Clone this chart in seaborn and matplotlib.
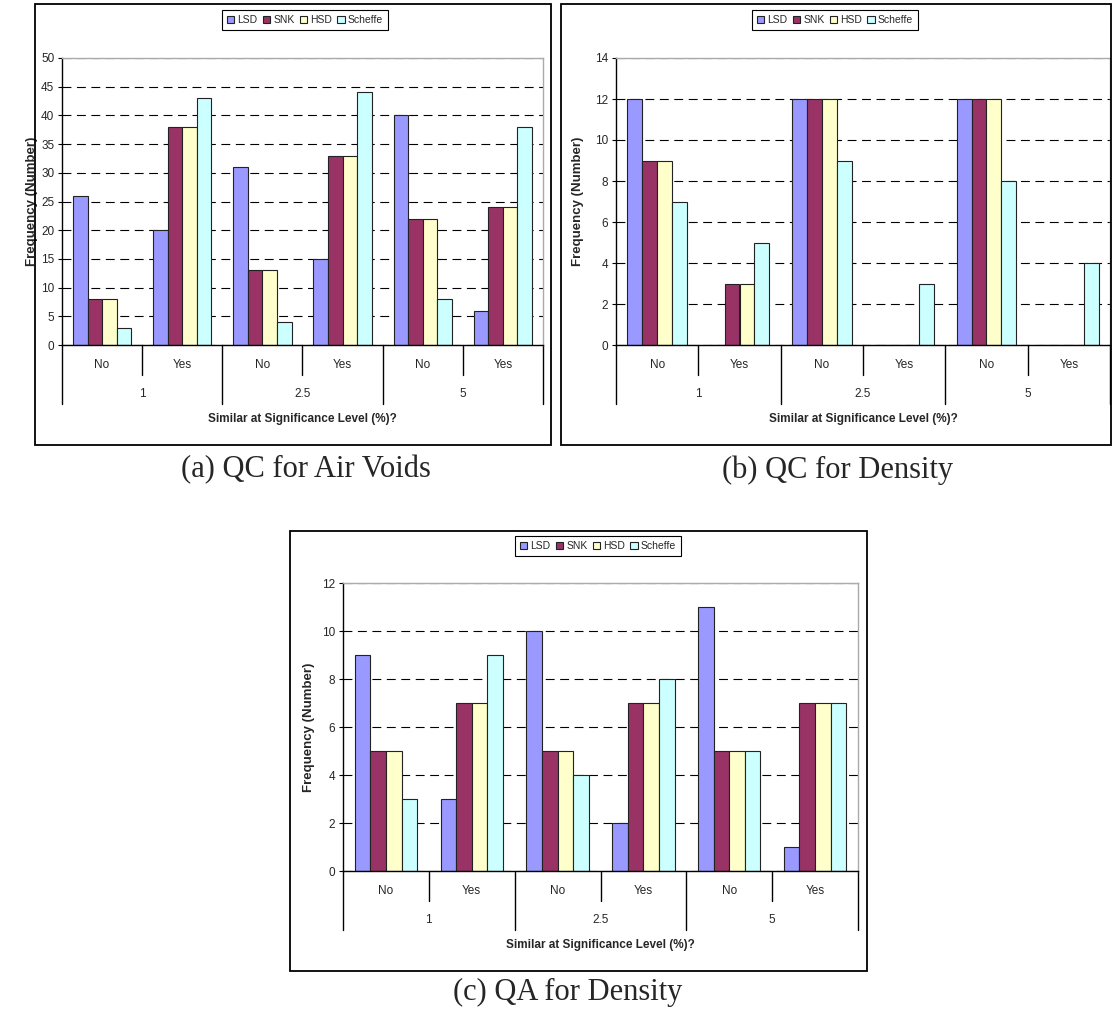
import matplotlib
matplotlib.use("Agg")
import matplotlib.pyplot as plt
import matplotlib.transforms as mtransforms
from matplotlib.patches import Rectangle
import seaborn as sns
import pandas as pd

# categories
levels = ["1", "2.5", "5"]
answers = ["No", "Yes"]
methods = ["LSD", "SNK", "HSD", "Scheffe"]
colors = ["#9999FF", "#993366", "#FFFFCC", "#CCFFFF"]

# order of values: 1-No, 1-Yes, 2.5-No, 2.5-Yes, 5-No, 5-Yes
# (a) QC for Air Voids
qc_air_lsd = [26, 20, 31, 15, 40, 6]
qc_air_snk = [8, 38, 13, 33, 22, 24]
qc_air_hsd = [8, 38, 13, 33, 22, 24]
qc_air_scheffe = [3, 43, 4, 44, 8, 38]

# (b) QC for Density
qc_den_lsd = [12, 0, 12, 0, 12, 0]
qc_den_snk = [9, 3, 12, 0, 12, 0]
qc_den_hsd = [9, 3, 12, 0, 12, 0]
qc_den_scheffe = [7, 5, 9, 3, 8, 4]

# (c) QA for Density
qa_den_lsd = [9, 3, 10, 2, 11, 1]
qa_den_snk = [5, 7, 5, 7, 5, 7]
qa_den_hsd = [5, 7, 5, 7, 5, 7]
qa_den_scheffe = [3, 9, 4, 8, 5, 7]

W, H = 1112, 1010
conds = [f"{lv} {an}" for lv in levels for an in answers]

sns.set_style("white")
plt.rcParams["font.family"] = ["Liberation Sans", "DejaVu Sans"]


def px_box(l, t, r, b):
    return [l / W, 1 - b / H, (r - l) / W, (b - t) / H]


def make_df(series):
    rows = []
    for m, vals in zip(methods, series):
        for c, v in zip(conds, vals):
            rows.append({"cond": c, "method": m, "value": v})
    return pd.DataFrame(rows)


def draw_panel(fig, box, frame, series, ymax, ystep, legend_xy, caption, caption_xy, ylab_dx):
    l, t, r, b = box
    axw, axh = r - l, b - t
    ax = fig.add_axes(px_box(*box))
    df = make_df(series)
    sns.barplot(data=df, x="cond", y="value", hue="method", order=conds,
                hue_order=methods, palette=colors, width=0.727, saturation=1,
                edgecolor="#222222", linewidth=0.8, errorbar=None, ax=ax)

    ax.set_xlim(-0.5, 5.5)
    ax.set_ylim(0, ymax)
    ax.set_yticks(list(range(0, ymax + 1, ystep)))
    ax.set_xticks([])
    ax.set_xlabel("")
    ax.tick_params(axis="y", left=True, length=3, width=0.8, pad=2.5, labelsize=8.5, color="black")
    ax.set_axisbelow(True)
    ax.yaxis.grid(True, color="black", linestyle=(0, (8, 5)), linewidth=0.8)

    for side in ["left", "bottom"]:
        ax.spines[side].set_color("black")
        ax.spines[side].set_linewidth(1)
    for side in ["top", "right"]:
        ax.spines[side].set_color("#aaaaaa")
        ax.spines[side].set_linewidth(1)

    ax.set_ylabel("Frequency (Number)", fontweight="bold", fontsize=9.5)
    ax.yaxis.set_label_coords(-ylab_dx / axw, 0.5)

    # two-level category axis
    trans = mtransforms.blended_transform_factory(ax.transData, ax.transAxes)
    for x in [-0.5, 1.5, 3.5, 5.5]:
        ax.plot([x, x], [0, -59 / axh], transform=trans, color="black", lw=1, clip_on=False)
    for x in [0.5, 2.5, 4.5]:
        ax.plot([x, x], [0, -30 / axh], transform=trans, color="black", lw=1, clip_on=False)
    for i, c in enumerate(conds):
        ax.text(i, -20 / axh, answers[i % 2], transform=trans, ha="center", va="center", fontsize=8.5)
    for j, lv in enumerate(levels):
        ax.text(2 * j + 0.5, -49 / axh, lv, transform=trans, ha="center", va="center", fontsize=8.5)
    ax.text(0.5, -74 / axh, "Similar at Significance Level (%)?", transform=ax.transAxes,
            ha="center", va="center", fontsize=8.5, fontweight="bold")

    sns.move_legend(ax, "center", bbox_to_anchor=(legend_xy[0] / W, 1 - legend_xy[1] / H),
                    bbox_transform=fig.transFigure, ncol=4, title=None, frameon=True,
                    fontsize=7.5, handlelength=0.7, handleheight=0.7, handletextpad=0.3,
                    columnspacing=0.5, borderpad=0.45, fancybox=False, edgecolor="black",
                    framealpha=1)
    ax.get_legend().get_frame().set_linewidth(0.8)

    fl, ft, fr, fb = frame
    fig.add_artist(Rectangle((fl / W, 1 - fb / H), (fr - fl) / W, (fb - ft) / H,
                             transform=fig.transFigure, fill=False, edgecolor="black", lw=1.3))
    fig.text(caption_xy[0] / W, 1 - caption_xy[1] / H, caption, ha="center", va="center",
             family="Liberation Serif", fontsize=22)
    return ax


fig = plt.figure(figsize=(W / 100, H / 100), dpi=100)

draw_panel(fig, (62, 58, 543, 345), (35, 4, 551, 445),
           [qc_air_lsd, qc_air_snk, qc_air_hsd, qc_air_scheffe], 50, 5,
           (305, 20), "(a) QC for Air Voids", (306, 470), 24)
draw_panel(fig, (616, 58, 1110, 345), (561, 4, 1111, 445),
           [qc_den_lsd, qc_den_snk, qc_den_hsd, qc_den_scheffe], 14, 2,
           (835, 20), "(b) QC for Density", (838, 470), 32)
draw_panel(fig, (343, 583, 858, 871), (290, 531, 867, 971),
           [qa_den_lsd, qa_den_snk, qa_den_hsd, qa_den_scheffe], 12, 2,
           (598, 546), "(c) QA for Density", (568, 992), 28)

fig.savefig("out.png", dpi=100)
